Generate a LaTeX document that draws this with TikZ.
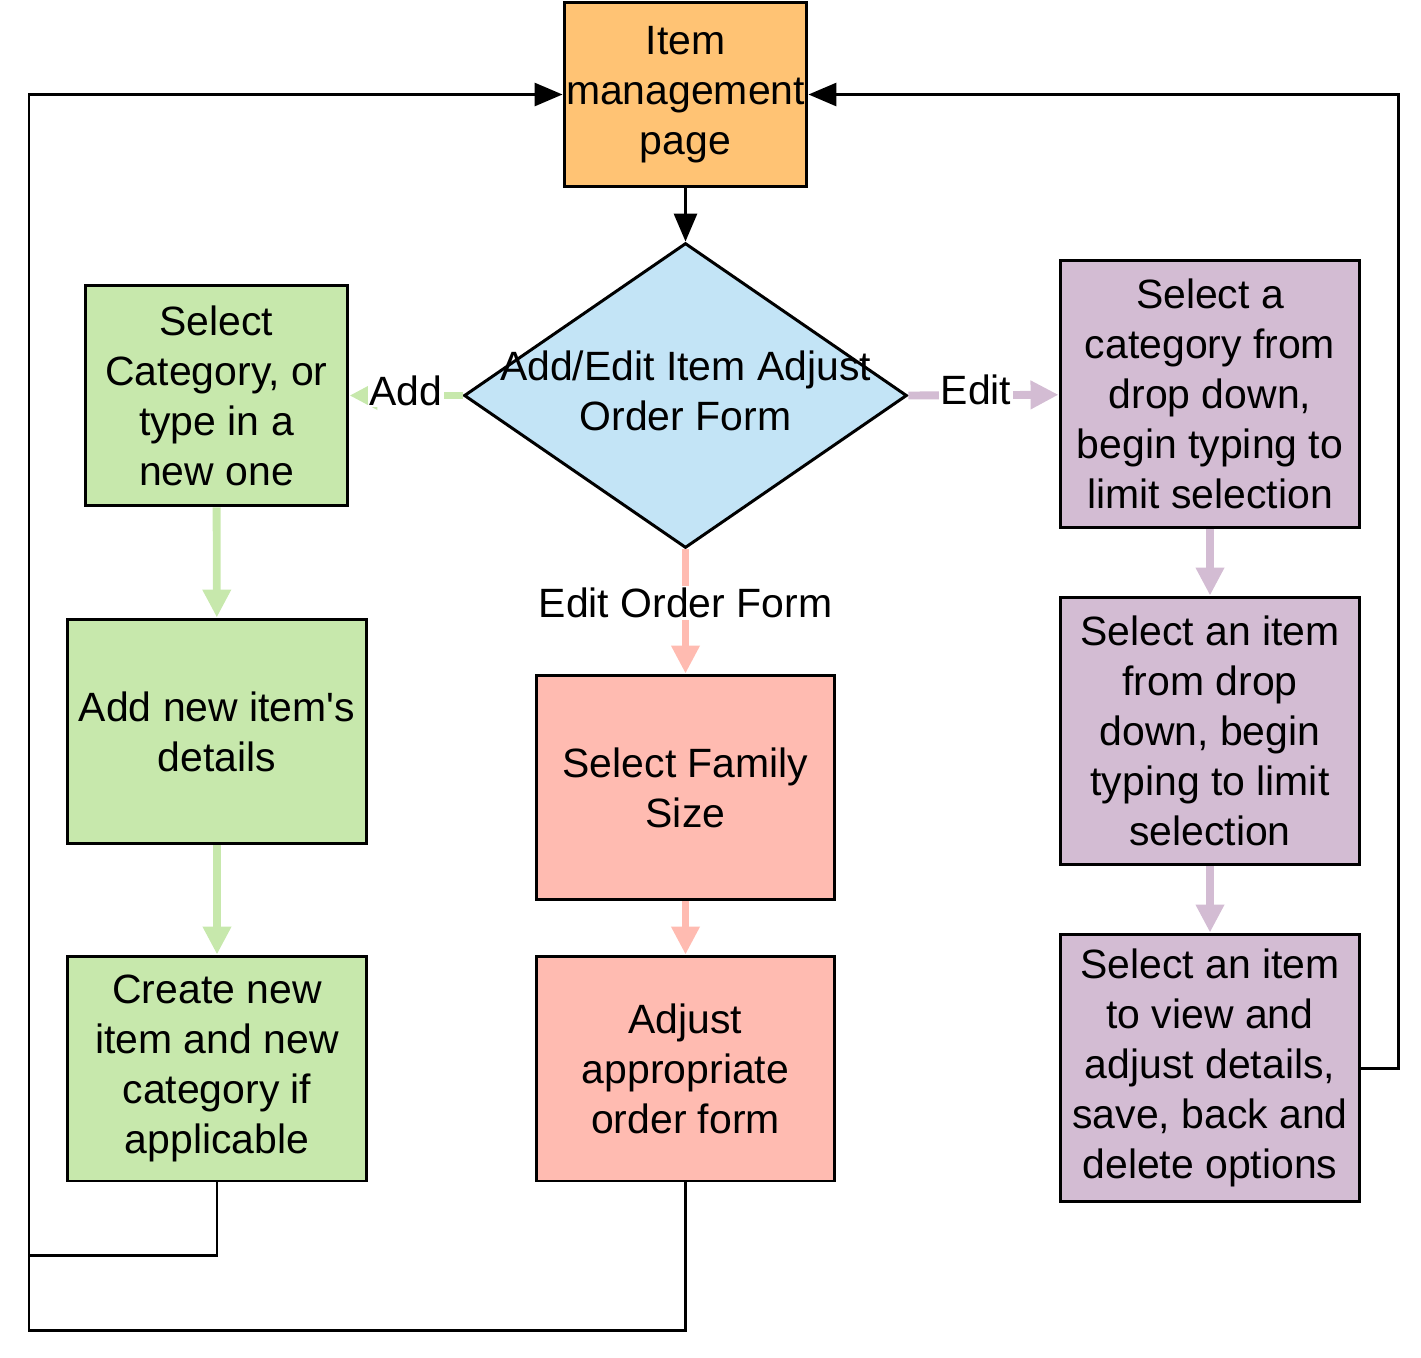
\documentclass[tikz,border=0pt]{standalone}
\usepackage{fontspec}
\setmainfont{Liberation Sans}[Ligatures=TeXOff]
\usetikzlibrary{shapes.geometric,arrows.meta}
\definecolor{orng}{HTML}{FFC374}
\definecolor{lblue}{HTML}{C3E4F6}
\definecolor{lgrn}{HTML}{C7E8AC}
\definecolor{lpnk}{HTML}{FFBBB1}
\definecolor{lpur}{HTML}{D3BCD3}
\begin{document}
\begin{tikzpicture}[x=0.02cm,y=-0.02cm,
		box/.style={draw,line width=1.7pt,align=center,inner sep=0pt,
			font=\fontsize{23.3pt}{28.45pt}\selectfont},
		blk/.style={line width=1.7pt,-{Triangle[length=0.56cm,width=0.46cm]}},
		col/.style={draw=#1,line width=4.5pt,-{Triangle[length=0.56cm,width=0.54cm]}},
		lab/.style={fill=white,inner sep=1pt,yshift=0.1cm,font=\fontsize{23.3pt}{28.45pt}\selectfont}]
		\useasboundingbox (0,0) rectangle (1421,1357);
		\node[box,fill=orng,minimum width=4.86cm,minimum height=3.7cm] (top) at (685.5,94.5) {Item\\management\\page};
		\node[box,diamond,fill=lblue,minimum width=8.86cm,minimum height=6.1cm,
			label={[align=center,yshift=0.1cm,font=\fontsize{23.3pt}{28.45pt}\selectfont]center:Add/Edit Item Adjust\\Order Form}] (dia) at (685.5,395.5) {};
		% add branch
		\node[box,fill=lgrn,minimum width=5.26cm,minimum height=4.42cm] (g1) at (216.5,395.5) {Select\\Category, or\\type in a\\new one};
		\node[box,fill=lgrn,minimum width=6cm,minimum height=4.5cm] (g2) at (217,731.5) {Add new item's\\details};
		\node[box,fill=lgrn,minimum width=6cm,minimum height=4.5cm] (g3) at (217,1068.5) {Create new\\item and new\\category if\\applicable};
		% order form branch
		\node[box,fill=lpnk,minimum width=5.98cm,minimum height=4.5cm] (p1) at (685.5,787.5) {Select Family\\Size};
		\node[box,fill=lpnk,minimum width=5.98cm,minimum height=4.5cm] (p2) at (685.5,1068.5) {Adjust\\appropriate\\order form};
		% edit branch
		\node[box,fill=lpur,minimum width=6cm,minimum height=5.36cm] (u1) at (1210,394) {Select a\\category from\\drop down,\\begin typing to\\limit selection};
		\node[box,fill=lpur,minimum width=6cm,minimum height=5.36cm] (u2) at (1210,731) {Select an item\\from drop\\down, begin\\typing to limit\\selection};
		\node[box,fill=lpur,minimum width=6cm,minimum height=5.36cm] (u3) at (1210,1068) {Select an item\\to view and\\adjust details,\\save, back and\\delete options};
		
		\draw[blk] (top) -- (dia.north);
		\draw[col=lgrn] (dia.west) -- node[lab]{Add} (g1);
		\draw[col=lpur] (dia.east) -- node[lab,pos=0.45]{Edit} (u1);
		\draw[col=lpnk] (dia.south) -- node[lab,pos=0.47]{Edit Order Form} (p1);
		\draw[col=lgrn] (g1) -- (g2);
		\draw[col=lgrn] (g2) -- (g3);
		\draw[col=lpnk] (p1) -- (p2);
		\draw[col=lpur] (u1) -- (u2);
		\draw[col=lpur] (u2) -- (u3);
		% loops back to the top
		\draw[blk] (g3.south) |- (29,1255) |- (top.west);
		\draw[line width=1.7pt] (p2.south) |- (29,1330) -- (29,1255);
		\draw[blk] (u3.east) -- ++(37,0) |- (top.east);
	\end{tikzpicture}
\end{document}
